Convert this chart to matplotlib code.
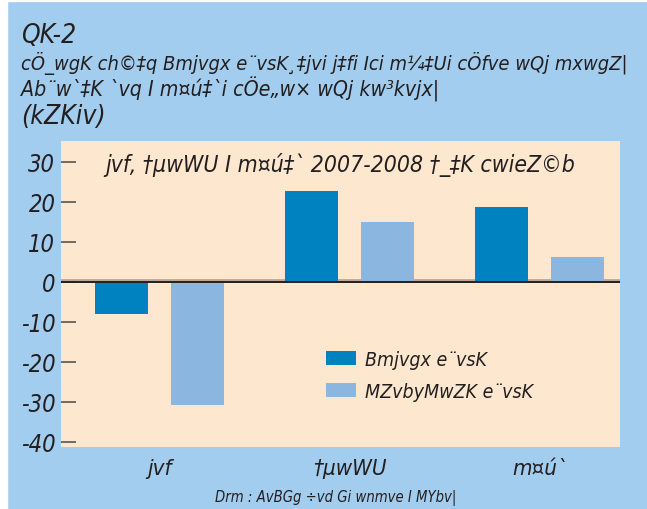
import matplotlib
matplotlib.use("Agg")
import matplotlib.pyplot as plt
from matplotlib.patches import Rectangle
import numpy as np

# data (text is in legacy SutonnyMJ encoding, kept as-is)
categories = ["jvf", "†µwWU", "m¤ú`"]
islamic = [-8.0, 22.6, 18.6]
conventional = [-30.8, 15.0, 6.3]
series_names = ["Bmjvgx e¨vsK", "MZvbyMwZK e¨vsK"]
yticks = [30, 20, 10, 0, -10, -20, -30, -40]

header = ["QK-2",
          "cÖ_wgK ch©‡q Bmjvgx e¨vsK¸‡jvi j‡fi Ici m¼‡Ui cÖfve wQj mxwgZ|",
          "Ab¨w`‡K `vq I m¤ú‡`i cÖe„w× wQj kw³kvjx|",
          "(kZKiv)"]
chart_title = "jvf, †µwWU I m¤ú‡` 2007-2008 †_‡K cwieZ©b"
source = "Drm : AvBGg ÷vd Gi wnmve I MYbv|"

BLUE_BG = "#A2CDEE"
PEACH = "#FDE7CF"
DARK = "#0081C0"
LIGHT = "#8BB6DF"
INK = "#231F20"

plt.rcParams['font.family'] = ['DejaVu Sans']
plt.rcParams['font.style'] = 'italic'
plt.rcParams['font.stretch'] = 'condensed'

W, H = 647, 510
fig = plt.figure(figsize=(W / 100, H / 100), dpi=100, facecolor=BLUE_BG)
fig.patches.append(Rectangle((0, 0), 7 / W, 1, transform=fig.transFigure, color="white", zorder=0))
fig.patches.append(Rectangle((0, 1 - 2 / H), 1, 2 / H, transform=fig.transFigure, color="white", zorder=0))

ax = fig.add_axes([61 / W, 62 / H, 559 / W, 306 / H])
ax.set_facecolor(PEACH)

x = np.arange(len(categories))
w = 0.279
ax.bar(x - 0.2, islamic, w, color=DARK, label=series_names[0], zorder=2)
ax.bar(x + 0.2, conventional, w, color=LIGHT, label=series_names[1], zorder=2)
ax.axhline(0.4, color="#BBA995", lw=2, zorder=1)
ax.axhline(0, color=INK, lw=1.4, zorder=3)

ax.set_xlim(-0.518, 2.424)
ax.set_ylim(-41.3, 35.2)
ax.set_yticks(yticks)
ax.set_yticklabels([str(t) for t in yticks], fontsize=17, color=INK)
ax.tick_params(axis='y', direction='in', length=11, width=1.2, color="#555555", pad=4)
ax.set_xticks(x)
ax.set_xticklabels(categories, fontsize=16, color=INK)
ax.tick_params(axis='x', length=0, pad=8)
for s in ax.spines.values():
    s.set_visible(False)

title = ax.text(0.5, 0.925, chart_title, transform=ax.transAxes, ha='center', va='center',
                fontsize=18, color=INK)

ax.legend(loc='upper left', bbox_to_anchor=(326 / W, 1 - 351 / H), bbox_transform=fig.transFigure,
          frameon=False, fontsize=14, handlelength=1.55, handleheight=0.75,
          handletextpad=0.45, labelspacing=0.65, borderpad=0, borderaxespad=0,
          labelcolor=INK)

texts = []
for line, base, fs in zip(header, [43, 70, 97, 124], [19, 16, 16, 19]):
    texts.append(fig.text(21 / W, 1 - base / H, line, fontsize=fs, color=INK,
                          va='baseline', ha='left'))

src = fig.text(336 / W, 1 - 498 / H, source, fontsize=12, color=INK, ha='center', va='center')

# squeeze texts that would come out too wide
renderer = fig.canvas.get_renderer()
for t, target in [(texts[1], 610), (texts[2], 420), (title, 470), (src, 240)]:
    wpx = t.get_window_extent(renderer).width
    if wpx > target:
        t.set_fontsize(t.get_fontsize() * target / wpx)

fig.savefig("out.png", dpi=100, facecolor=BLUE_BG)
